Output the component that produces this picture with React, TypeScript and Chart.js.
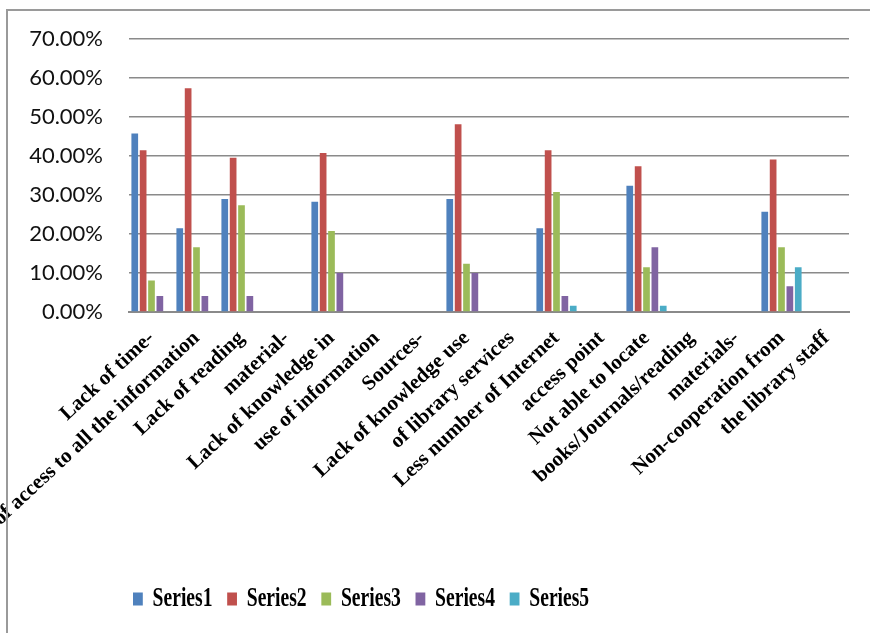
import React, { useEffect, useRef } from "react";
import { Chart, registerables } from "chart.js";

Chart.register(...registerables);

// One entry per label line on the category axis; bars sit on the first line of each item.
const categories = [
  "Lack of time-",
  "Lack of access to all the information",
  "Lack of reading",
  "material-",
  "Lack of knowledge in",
  "use of information",
  "Sources-",
  "Lack of knowledge use",
  "of library services",
  "Less number of Internet",
  "access point",
  "Not able to locate",
  "books/Journals/reading",
  "materials-",
  "Non-cooperation from",
  "the library staff",
];

const series1 = [45.8, 21.5, 29.0, null, 28.3, null, null, 29.0, null, 21.5, null, 32.4, null, null, 25.7, null];
const series2 = [41.5, 57.4, 39.6, null, 40.8, null, null, 48.2, null, 41.5, null, 37.4, null, null, 39.1, null];
const series3 = [8.1, 16.6, 27.4, null, 20.8, null, null, 12.4, null, 30.8, null, 11.5, null, null, 16.6, null];
const series4 = [4.1, 4.1, 4.1, null, 10.0, null, null, 10.0, null, 4.1, null, 16.6, null, null, 6.6, null];
const series5 = [0, 0, 0, null, 0, null, null, 0, null, 1.6, null, 1.6, null, null, 11.5, null];

const seriesNames = ["Series1", "Series2", "Series3", "Series4", "Series5"];
const seriesColors = ["#4F81BD", "#C0504D", "#9BBB59", "#8064A2", "#4BACC6"];

const yMin = 0;
const yMax = 70;
const yStep = 10;

const W = 870;
const H = 633;

// Legend lettering is tall and narrow: draw it with a horizontal squeeze
// and start the row under the left part of the plot.
const LEGEND_SQUEEZE = 0.7;
const LEGEND_START = 133;

const legendOffset = {
  id: "legendOffset",
  afterLayout(chart: any) {
    const lg = chart.legend;
    if (!lg) return;
    const pad = lg.options.labels.padding;
    const dx = LEGEND_START / LEGEND_SQUEEZE - pad - lg.left;
    lg.left += dx;
    lg.right += dx;
    if (!lg._squeezed) {
      const draw = lg.draw.bind(lg);
      lg.draw = function () {
        const ctx = chart.ctx;
        ctx.save();
        ctx.scale(LEGEND_SQUEEZE, 1);
        draw();
        ctx.restore();
      };
      lg._squeezed = true;
    }
  },
};

export default function App() {
  const canvasRef = useRef<HTMLCanvasElement | null>(null);

  useEffect(() => {
    const canvas = canvasRef.current;
    if (!canvas) return;
    const all = [series1, series2, series3, series4, series5];
    const chart = new Chart(canvas, {
      type: "bar",
      data: {
        labels: categories,
        datasets: all.map((values, i) => ({
          label: seriesNames[i],
          data: values,
          backgroundColor: seriesColors[i],
          borderWidth: 0,
          categoryPercentage: 0.93,
          barPercentage: 0.8,
        })),
      },
      options: {
        responsive: false,
        animation: false,
        devicePixelRatio: 1,
        layout: { padding: { left: 0, right: 21, top: 39, bottom: 10 } },
        plugins: {
          tooltip: { enabled: false },
          title: { display: false },
          legend: {
            display: true,
            position: "bottom",
            align: "start",
            maxWidth: 2000,
            labels: {
              boxWidth: 14,
              boxHeight: 13,
              padding: 21,
              color: "#000",
              font: {
                family: "'Liberation Serif', 'Times New Roman', serif",
                size: 28,
                weight: "bold",
              },
            },
          },
        },
        scales: {
          x: {
            grid: { display: false, drawTicks: false },
            border: { display: true, color: "#8a8a8a", width: 2 },
            ticks: {
              autoSkip: false,
              maxRotation: 43,
              minRotation: 43,
              padding: 14,
              color: "#000",
              font: {
                family: "'Liberation Serif', 'Times New Roman', serif",
                size: 21,
                weight: "bold",
              },
            },
            afterFit(scale: any) {
              scale.height = 252;
              scale.paddingLeft = 0;
              scale.paddingRight = 0;
            },
          },
          y: {
            min: yMin,
            max: yMax,
            grid: { color: "#8a8a8a", lineWidth: 1.5, drawTicks: false },
            border: { display: false },
            ticks: {
              stepSize: yStep,
              padding: 26,
              color: "#111",
              font: { family: "Lato, 'Liberation Sans', sans-serif", size: 22 },
              callback: (v: any) => Number(v).toFixed(2) + "%",
            },
            afterFit(scale: any) {
              scale.width = 129;
            },
          },
        },
      },
      plugins: [legendOffset],
    });
    return () => chart.destroy();
  }, []);

  return (
    <div
      style={{
        position: "absolute",
        left: 0,
        top: 0,
        width: W,
        height: H,
        overflow: "hidden",
        background: "#fff",
      }}
    >
      <canvas ref={canvasRef} width={W} height={H} style={{ display: "block" }} />
      <div
        style={{
          position: "absolute",
          left: 6,
          top: 9,
          width: W,
          height: H,
          borderLeft: "2px solid #9a9a9a",
          borderTop: "2px solid #9a9a9a",
          pointerEvents: "none",
        }}
      />
    </div>
  );
}
